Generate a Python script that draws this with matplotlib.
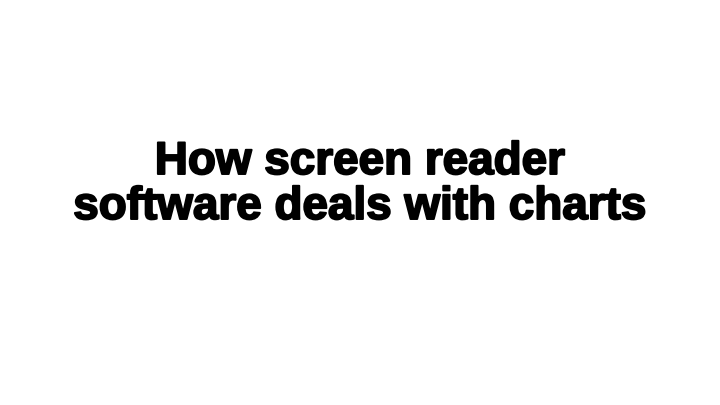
import matplotlib
matplotlib.use("Agg")
import matplotlib.pyplot as plt
import matplotlib.patheffects as pe

# title lines of the slide
title_lines = ["How screen reader", "software deals with charts"]
baselines_px = [174, 219]

fig = plt.figure(figsize=(7.2, 4.05), dpi=100)
fig.patch.set_facecolor("white")

for line, y_px in zip(title_lines, baselines_px):
    fig.text(0.5, 1 - y_px / 405, line, ha="center", va="baseline",
             fontsize=33, fontweight="bold", family="Liberation Sans",
             color="black",
             path_effects=[pe.withStroke(linewidth=1.4, foreground="black")])

fig.savefig("out.png", dpi=100, facecolor="white")
